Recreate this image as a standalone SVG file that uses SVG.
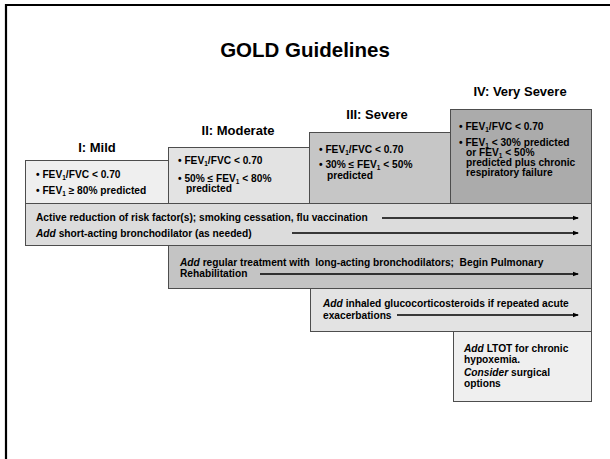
<svg xmlns="http://www.w3.org/2000/svg" width="610" height="459" viewBox="0 0 610 459">
<defs>
<marker id="ah" markerWidth="6" markerHeight="6" refX="5" refY="3" orient="auto" markerUnits="userSpaceOnUse">
<path d="M0,0.8 L6,3 L0,5.2 Z" fill="#000"/>
</marker>
<style>
text{font-family:"Liberation Sans",Arial,sans-serif;font-weight:bold;fill:#000;white-space:pre}
.t{font-size:20.5px}
.h{font-size:13px;text-anchor:middle}
.s{font-size:10.2px}
.b{stroke:#4d4d4d;stroke-width:1}
.sub{font-size:6.5px}
.arr{stroke:#000;stroke-width:1.5;fill:none;marker-end:url(#ah)}
.it{font-style:italic}
</style>
</defs>
<rect x="0" y="0" width="610" height="459" fill="#fff"/>
<path d="M6,459 V5 H612" fill="none" stroke="#000" stroke-width="2.2"/>
<text class="t" x="305" y="57" text-anchor="middle">GOLD Guidelines</text>

<g id="mild">
<text class="h" x="97" y="152">I: Mild</text>
<rect class="b" x="25.5" y="160.5" width="143" height="43" fill="#efefef"/>
<text class="s" x="36" y="178">• FEV<tspan class="sub" dy="1.5">1</tspan><tspan dy="-1.5">/FVC &lt; 0.70</tspan></text>
<text class="s" x="36" y="194">• FEV<tspan class="sub" dy="1.5">1</tspan><tspan dy="-1.5"> ≥ 80% predicted</tspan></text>
</g>

<g id="moderate">
<text class="h" x="238" y="135">II: Moderate</text>
<rect class="b" x="168.5" y="147.5" width="141" height="56" fill="#e3e3e3"/>
<text class="s" x="178" y="164">• FEV<tspan class="sub" dy="1.5">1</tspan><tspan dy="-1.5">/FVC &lt; 0.70</tspan></text>
<text class="s" x="178" y="182">• 50% ≤ FEV<tspan class="sub" dy="1.5">1</tspan><tspan dy="-1.5"> &lt; 80%</tspan></text>
<text class="s" x="186" y="192">predicted</text>
</g>

<g id="severe">
<text class="h" x="377" y="119">III: Severe</text>
<rect class="b" x="309.5" y="132.5" width="141" height="71" fill="#c6c6c6"/>
<text class="s" x="319" y="153">• FEV<tspan class="sub" dy="1.5">1</tspan><tspan dy="-1.5">/FVC &lt; 0.70</tspan></text>
<text class="s" x="319" y="168">• 30% ≤ FEV<tspan class="sub" dy="1.5">1</tspan><tspan dy="-1.5"> &lt; 50%</tspan></text>
<text class="s" x="327" y="179">predicted</text>
</g>

<g id="very-severe">
<text class="h" x="520" y="96">IV: Very Severe</text>
<rect class="b" x="450.5" y="109.5" width="141" height="94" fill="#ababab"/>
<text class="s" x="459" y="130">• FEV<tspan class="sub" dy="1.5">1</tspan><tspan dy="-1.5">/FVC &lt; 0.70</tspan></text>
<text class="s" x="459" y="146">• FEV<tspan class="sub" dy="1.5">1</tspan><tspan dy="-1.5"> &lt; 30% predicted</tspan></text>
<text class="s" x="466" y="156">or FEV<tspan class="sub" dy="1.5">1</tspan><tspan dy="-1.5"> &lt; 50%</tspan></text>
<text class="s" x="466" y="166">predicted plus chronic</text>
<text class="s" x="466" y="176">respiratory failure</text>
</g>

<g id="bar1">
<rect class="b" x="25.5" y="203.5" width="566" height="42" fill="#dcdcdc"/>
<text class="s" x="36" y="221">Active reduction of risk factor(s); smoking cessation, flu vaccination</text>
<text class="s" x="36" y="237"><tspan class="it">Add</tspan> short-acting bronchodilator (as needed)</text>
</g>

<g id="bar2">
<rect class="b" x="168.5" y="245.5" width="423" height="43" fill="#c4c4c4"/>
<text class="s" x="180" y="266"><tspan class="it">Add</tspan> regular treatment with  long-acting bronchodilators;  Begin Pulmonary</text>
<text class="s" x="180" y="277">Rehabilitation</text>
</g>

<g id="bar3">
<rect class="b" x="310.5" y="288.5" width="281" height="43" fill="#e3e3e3"/>
<text class="s" x="323" y="307"><tspan class="it">Add</tspan> inhaled glucocorticosteroids if repeated acute</text>
<text class="s" x="323" y="319">exacerbations</text>
</g>

<g id="bar4">
<rect class="b" x="453.5" y="331.5" width="138" height="70" fill="#efefef"/>
<text class="s" x="464" y="352"><tspan class="it">Add</tspan> LTOT for chronic</text>
<text class="s" x="464" y="363">hypoxemia.</text>
<text class="s" x="464" y="376"><tspan class="it">Consider</tspan> surgical</text>
<text class="s" x="464" y="387">options</text>
</g>

<g id="connectors">
<line class="arr" x1="382" y1="218" x2="578" y2="218"/>
<line class="arr" x1="292" y1="233" x2="578" y2="233"/>
<line class="arr" x1="260" y1="274" x2="578" y2="274"/>
<line class="arr" x1="397" y1="315" x2="578" y2="315"/>
</g>
</svg>
